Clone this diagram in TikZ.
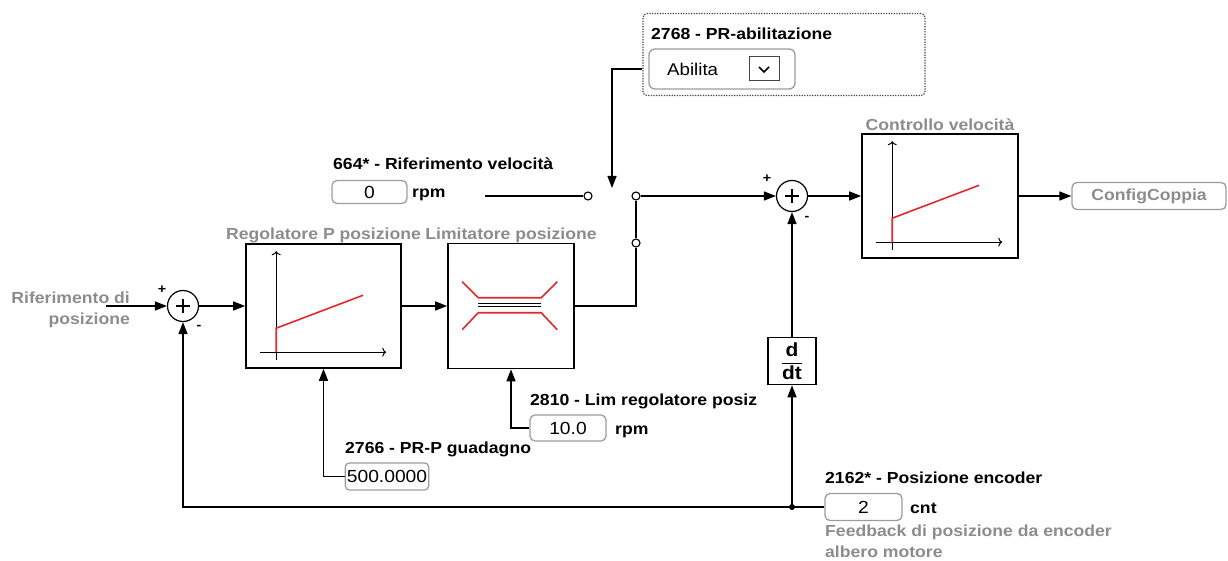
\documentclass[tikz,border=0pt]{standalone}
\usepackage{fontspec}
\setmainfont[FakeStretch=1.1]{Liberation Sans}
\usepackage{tikz}
\usetikzlibrary{positioning,calc,arrows.meta}
\definecolor{lgrey}{HTML}{8C8C8C}
\definecolor{bgrey}{HTML}{9C9C9C}
\definecolor{dgrey}{HTML}{444444}
\definecolor{cred}{HTML}{E0282D}

\begin{document}
\begin{tikzpicture}[x=1pt, y=-1pt,
  blk/.style={draw, line width=1.6pt, inner sep=0pt},
  sumn/.style={circle, draw, line width=1.2pt, minimum size=31pt, inner sep=0pt,
    path picture={\draw[line width=1.1pt]
      (path picture bounding box.center) ++(-7,0) -- ++(14,0)
      (path picture bounding box.center) ++(0,-7) -- ++(0,14);}},
  swpt/.style={circle, draw, line width=1.1pt, fill=white, minimum size=8pt, inner sep=0pt},
  val/.style={draw=bgrey, rounded corners=5pt, line width=1.3pt, inner sep=1.5pt,
              font=\fontsize{17.5}{20}\selectfont},
  lbl/.style={inner sep=0pt, font=\bfseries\fontsize{16}{21}\selectfont},
  glbl/.style={lbl, text=lgrey},
  sgn/.style={inner sep=0pt, font=\bfseries\fontsize{13}{13}\selectfont},
  arr/.style={-{Triangle[length=12pt,width=9pt]}, line width=1.4pt},
  ln/.style={line width=1.4pt},
  axis/.style={-{To[length=4pt,width=9pt]}, line width=1pt},
  redln/.style={draw=cred, line width=1.6pt}]
  \useasboundingbox (0,0) rectangle (1228,561);
  % --- main loop
  \node[sumn] (sum1) at (183,306) {};
  \node[blk, minimum width=155pt, minimum height=124pt] (regp) at (323.5,306) {};
  \node[blk, minimum width=126pt, minimum height=125pt] (lim)  at (511,306) {};
  \node[sumn] (sum2) at (792,196) {};
  \node[blk, minimum width=156pt, minimum height=124pt] (vel)  at (940,196) {};
  \node[blk, minimum width=48pt, minimum height=47pt, font=\fontsize{19}{21}\selectfont] (ddt) at (792,361)
    {$\displaystyle\frac{\textbf{d}}{\textbf{dt}}$};
  \node[val, minimum width=154pt, minimum height=27pt, text=lgrey,
        font=\bfseries\fontsize{16}{18}\selectfont] (cfg) at (1149,196) {ConfigCoppia};
  % --- block titles
  \node[glbl, anchor=base] (regpt) at (323.5,240) {Regolatore P posizione};
  \node[glbl, anchor=base] (limt)  at (511,240)   {Limitatore posizione};
  \node[glbl, anchor=base] (velt)  at (940,131)   {Controllo velocità};
  \node[glbl, align=right, anchor=east] (refpos) at (130,310) {Riferimento di\\posizione};
  \coordinate (refin) at (106,306);
  % --- signs
  \node[sgn] (s1p) at ($(sum1)+(-21,-16)$) {+};
  \node[sgn] (s1m) at ($(sum1)+(16,21)$)   {-};
  \node[sgn] (s2p) at ($(sum2)+(-25,-17)$) {+};
  \node[sgn] (s2m) at ($(sum2)+(15,22)$)   {-};
  % --- block pictures
  \foreach \b in {regp,vel} {
    \draw[axis] ($(\b.north west)+(31,117)$) -- ($(\b.north west)+(31,8)$);
    \draw[axis] ($(\b.north west)+(15,109)$) -- ($(\b.north west)+(141,109)$);
    \draw[redln] ($(\b.north west)+(31,109)$) -- ($(\b.north west)+(31,85)$) -- ($(\b.north west)+(118,52)$);
  }
  \draw[redln] ($(lim.north west)+(15,39)$) -- ($(lim.north west)+(31,55)$)
    -- ($(lim.north west)+(94,55)$) -- ($(lim.north west)+(110,39)$);
  \draw[redln] ($(lim.north west)+(15,87)$) -- ($(lim.north west)+(31,70)$)
    -- ($(lim.north west)+(94,70)$) -- ($(lim.north west)+(110,87)$);
  \draw[line width=1pt] ($(lim.north west)+(31,61)$) -- ($(lim.north west)+(94,61)$);
  \draw[line width=1pt] ($(lim.north west)+(31,64)$) -- ($(lim.north west)+(94,64)$);
  % --- enable selector
  \node[draw=dgrey, dash pattern=on 1.3pt off 1.3pt, line width=1.2pt, rounded corners=4pt,
        minimum width=282pt, minimum height=82pt] (enbox) at (784,54.5) {};
  \node[lbl, anchor=base west] (entl) at (651,40) {2768 - PR-abilitazione};
  \node[draw=bgrey, rounded corners=6pt, line width=1.3pt, minimum width=146pt,
        minimum height=40pt] (drop) at (722,69) {};
  \node[inner sep=0pt, anchor=base west, font=\fontsize{17}{20}\selectfont] (dropt) at (667,76) {Abilita};
  \node[draw=dgrey, line width=1pt, minimum width=30pt, minimum height=24pt] (chk) at (764,69) {};
  \draw[line width=1.6pt] ($(chk)+(-5,-2)$) -- ($(chk)+(0,3)$) -- ($(chk)+(5,-2)$);
  % --- switch
  \node[swpt] (swa) at (588,196) {};
  \node[swpt] (swc) at (636,196) {};
  \node[swpt] (swb) at (636,243) {};
  \coordinate (swtip) at (612,188);
  \coordinate (vin) at (485,196);
  % --- parameters
  \node[lbl, anchor=base west] (vrefl) at (333,170) {664* - Riferimento velocità};
  \node[val, minimum width=75pt, minimum height=23pt] (vref) at (369.5,192) {0};
  \node[lbl, anchor=base west] (vrefu) at (412,198) {rpm};
  \node[lbl, anchor=base west] (gainl) at (345,453) {2766 - PR-P guadagno};
  \node[val, rounded corners=4pt, minimum height=27pt] (gain) at (387,476.5) {500.0000};
  \node[lbl, anchor=base west] (limpl) at (530,405) {2810 - Lim regolatore posiz};
  \node[val, minimum width=76pt, minimum height=26pt] (limp) at (568,428) {10.0};
  \node[lbl, anchor=base west] (limpu) at (615,434) {rpm};
  \node[lbl, anchor=base west] (encl) at (825,483) {2162* - Posizione encoder};
  \node[val, minimum width=77pt, minimum height=27pt] (enc) at (863.5,507) {2};
  \node[lbl, anchor=base west] (encu) at (910,513) {cnt};
  \node[glbl, align=left, anchor=north west] (encd) at (825,525)
    {Feedback di posizione da encoder\\albero motore};
  \coordinate (fbj) at (792,507);
  % --- connectors
  \draw[arr] (refin) -- (sum1);
  \draw[arr] (sum1) -- (regp);
  \draw[arr] (regp) -- (lim);
  \draw[ln] (lim.east) -| (swb);
  \draw[ln] (swb) -- (swc);
  \draw[arr] (swc) -- (sum2);
  \draw[ln] (vin) -- (swa);
  \draw[arr] (enbox.west |- drop.west) -| (swtip);
  \draw[arr] (sum2) -- (vel);
  \draw[arr] (vel) -- (cfg);
  \draw[arr] (ddt) -- (sum2);
  \draw[ln] (enc) -- (fbj);
  \draw[arr] (fbj) -- (ddt);
  \draw[arr] (fbj) -| (sum1);
  \fill (fbj) circle (3pt);
  \draw[arr] (gain) -| (regp);
  \draw[arr] (limp) -| (lim);
\end{tikzpicture}
\end{document}
